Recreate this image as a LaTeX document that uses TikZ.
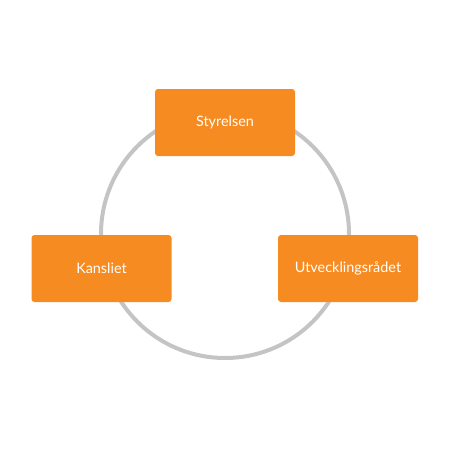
\documentclass[tikz,border=0pt]{standalone}
\usepackage{fontspec}
\setmainfont{Lato}
\usepackage{xcolor}
\definecolor{BoxOrange}{HTML}{F68B22}
\definecolor{RingGray}{HTML}{C4C4C4}

\begin{document}
\begin{tikzpicture}[x=1pt, y=-1pt,
            unit/.style={rectangle, fill=BoxOrange, rounded corners=3pt, minimum height=67pt, minimum width=140pt, align=center, text=white, font=\fontsize{14.4}{17}\selectfont},
            ring/.style={line width=4pt, color=RingGray}
        ]
            % Frame
            \useasboundingbox (0,0) rectangle (450,450);

            % Cycle ring
            \node[circle, minimum size=248pt, inner sep=0pt] (cycle) at (225,234) {};
            \draw[ring] (cycle.center) circle[radius=124pt];

            % Units on the ring
            \node[unit] (board) at (225,122.5) {Styrelsen};
            \node[unit] (office) at (101.5,268.5) {Kansliet};
            \node[unit] (council) at (348,268.5) {Utvecklingsrådet};
        \end{tikzpicture}
\end{document}
